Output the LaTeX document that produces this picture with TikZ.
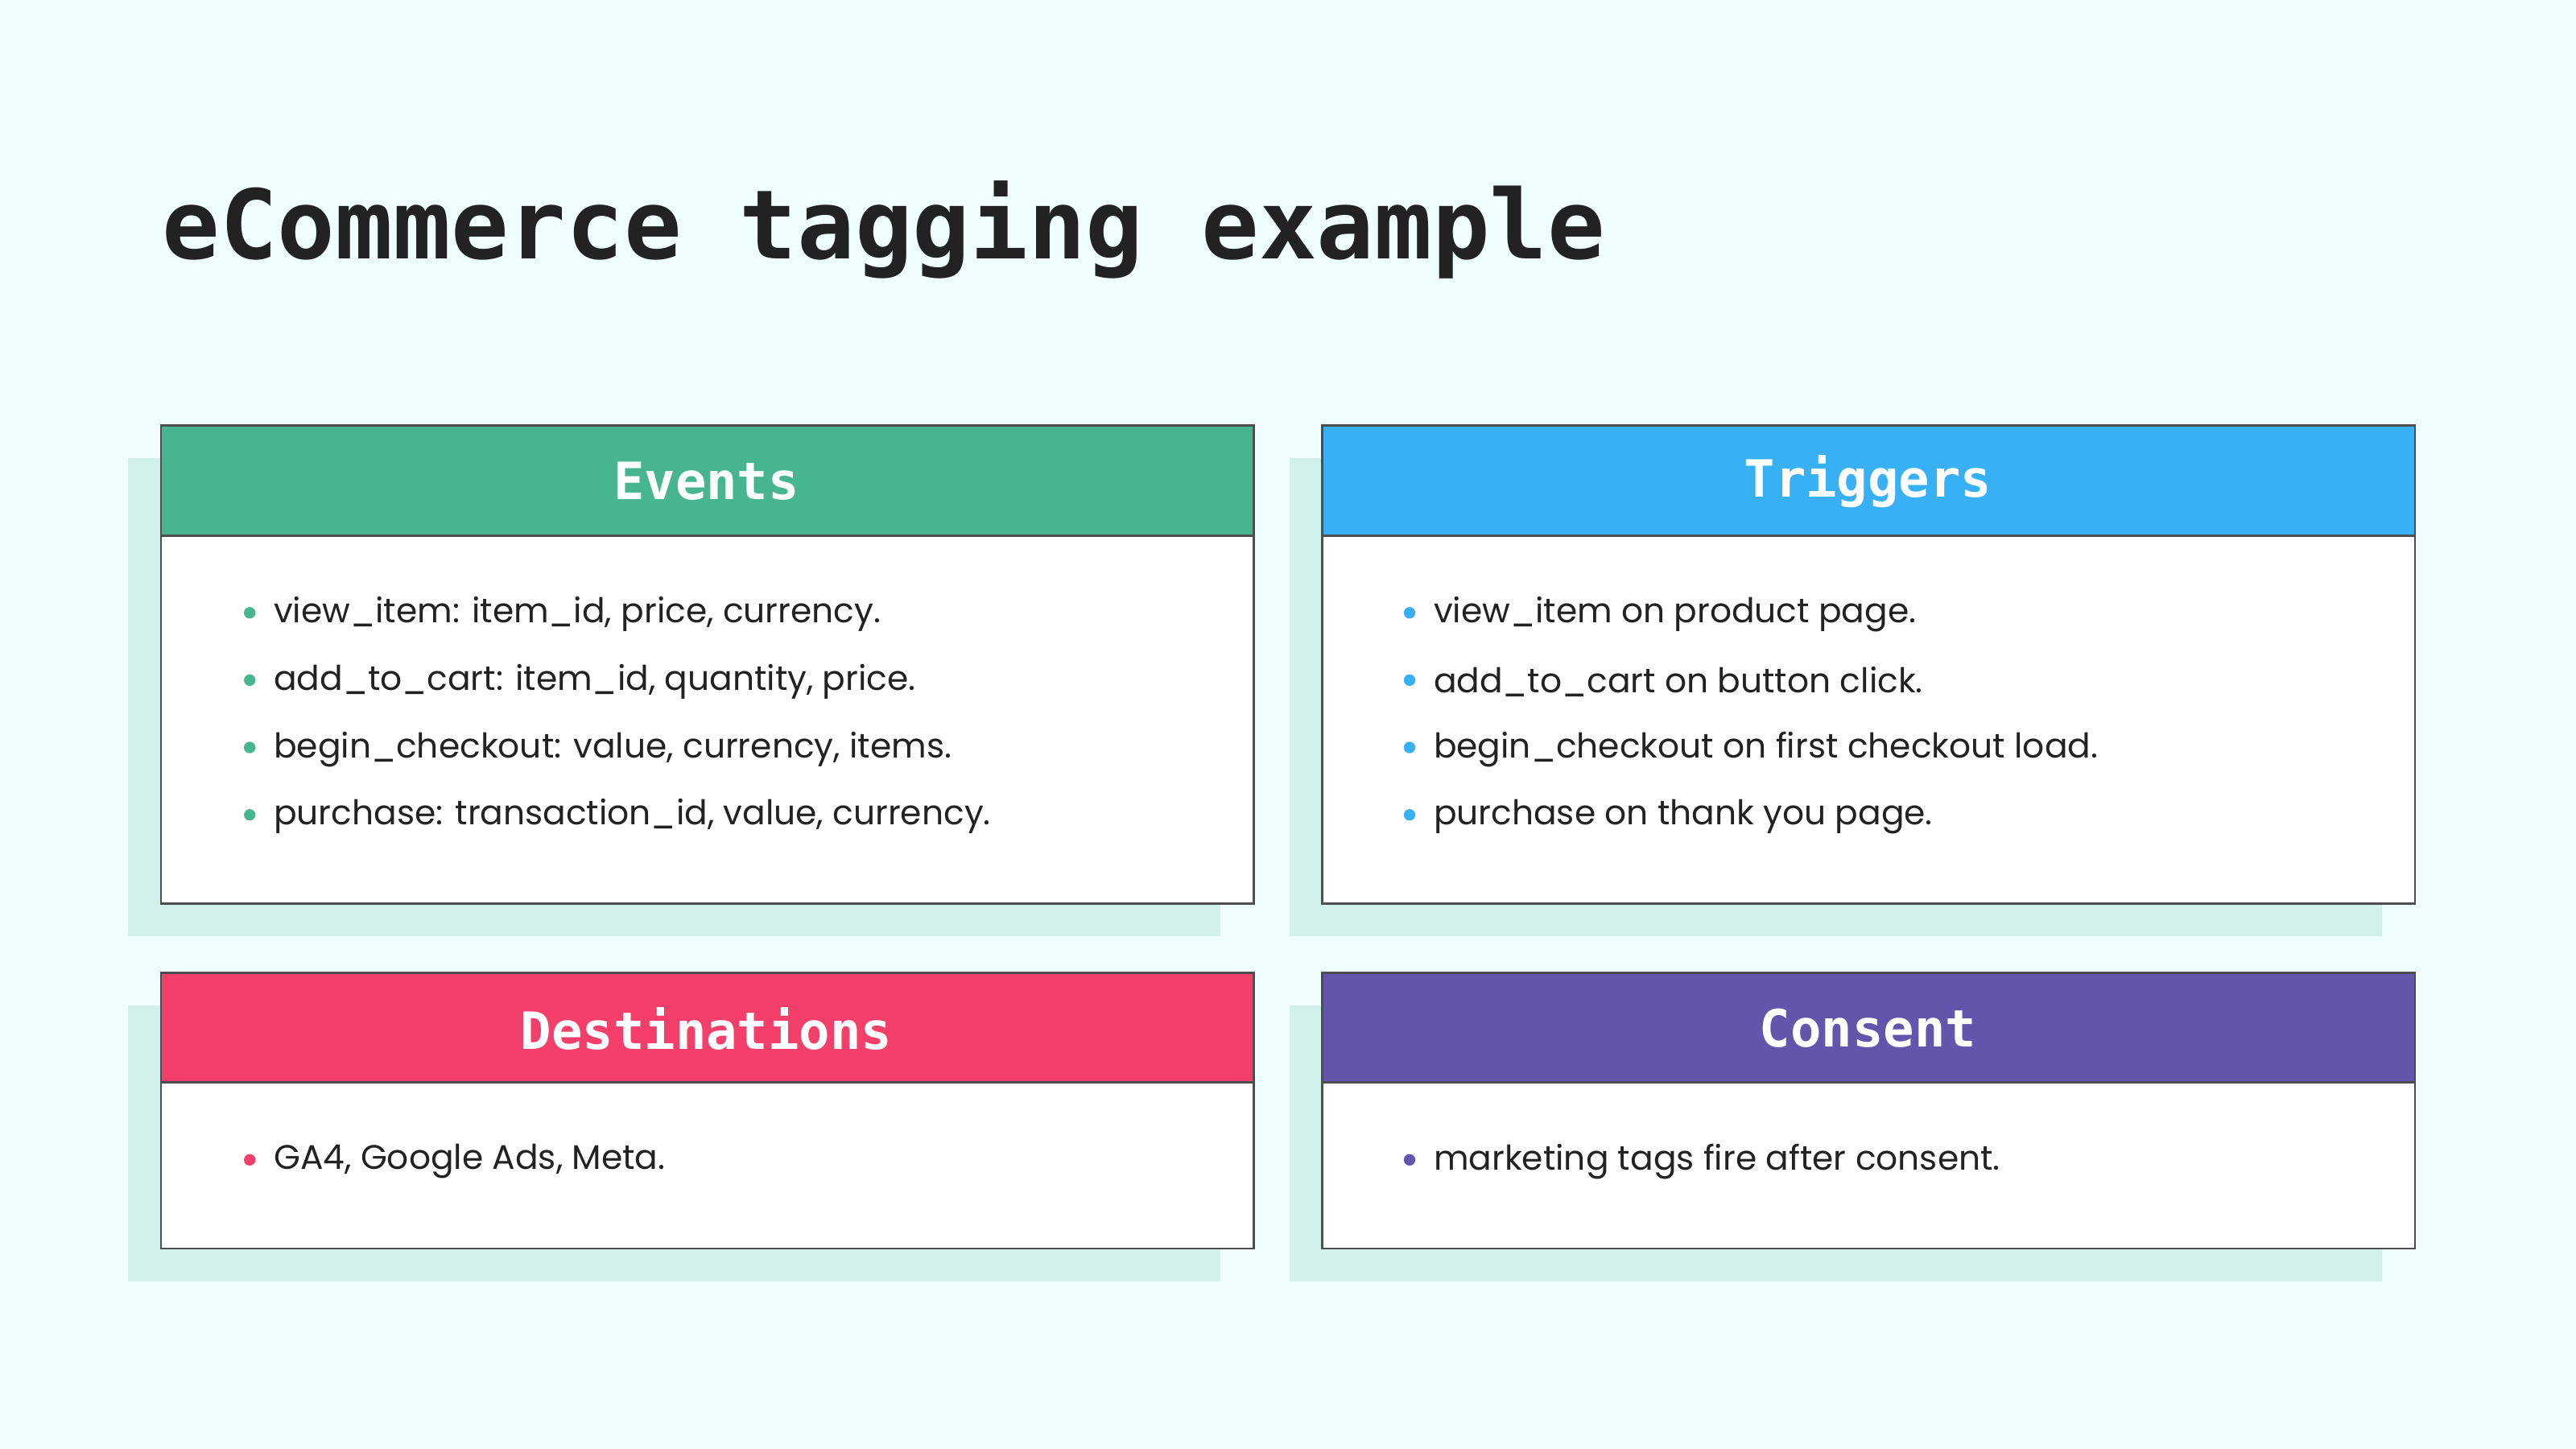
\documentclass[tikz,border=0pt]{standalone}
\usepackage{fontspec}
\setmainfont{Poppins}
\newfontfamily\titlefont{DejaVu Sans Mono}
\usetikzlibrary{positioning}
\definecolor{bgcol}{HTML}{EFFFFE}
\definecolor{shadowcol}{HTML}{D2F0EC}
\definecolor{evcol}{HTML}{47B68E}
\definecolor{trcol}{HTML}{38B0F5}
\definecolor{decol}{HTML}{F43F6A}
\definecolor{cocol}{HTML}{6255AB}
\definecolor{txtcol}{HTML}{222222}
\tikzset{
  header/.style={font=\titlefont\bfseries\fontsize{8.9}{11}\selectfont, text=white},
  item/.style={anchor=west, font=\fontsize{5.9}{7}\selectfont, text=txtcol, inner sep=0pt},
  dot/.style={circle, fill=#1, inner sep=0pt, minimum size=0.07cm}
}
\begin{document}
\begin{tikzpicture}[x=0.01cm, y=-0.01cm]
\fill[bgcol] (0,0) rectangle (1568,882);
\useasboundingbox (0,0) rectangle (1568,882);

\node[anchor=west, inner sep=0pt, text=txtcol, font=\titlefont\bfseries\fontsize{16.6}{20}\selectfont] (title) at (98,140) {eCommerce tagging example};

% panels: x, y top, y bottom, colour, name, heading
\foreach \x/\yt/\yb/\col/\name/\head in {98/259/550/evcol/ev/Events, 805/259/550/trcol/tr/Triggers,
    98/592/760/decol/de/Destinations, 805/592/760/cocol/co/Consent}{
  \fill[shadowcol] (\x-20,\yt+20) rectangle (\x+645,\yb+20);
  \fill[white] (\x,\yt) rectangle (\x+665,\yb);
  \fill[\col] (\x,\yt) rectangle (\x+665,\yt+67);
  \draw[txtcol!80, line width=0.4pt] (\x,\yt) rectangle (\x+665,\yb);
  \draw[txtcol!80, line width=0.4pt] (\x,\yt+67) -- (\x+665,\yt+67);
  \node[header] (\name-head) at (\x+332,\yt+34) {\head};
}

% events
\foreach \t [count=\i] in {view\_item: item\_id{,} price{,} currency.,
    add\_to\_cart: item\_id{,} quantity{,} price.,
    begin\_checkout: value{,} currency{,} items.,
    purchase: transaction\_id{,} value{,} currency.}{
  \node[dot=evcol] (ev-dot\i) at (152,332+41*\i) {};
  \node[item] (ev-item\i) at (166,333+41*\i) {\t};
}
% triggers
\foreach \t [count=\i] in {view\_item on product page.,
    add\_to\_cart on button click.,
    begin\_checkout on first checkout load.,
    purchase on thank you page.}{
  \node[dot=trcol] (tr-dot\i) at (858,332+41*\i) {};
  \node[item] (tr-item\i) at (872,333+41*\i) {\t};
}
\node[dot=decol] (de-dot1) at (152,706) {};
\node[item] (de-item1) at (166,707) {GA4, Google Ads, Meta.};
\node[dot=cocol] (co-dot1) at (858,706) {};
\node[item] (co-item1) at (872,707) {marketing tags fire after consent.};
\end{tikzpicture}
\end{document}
